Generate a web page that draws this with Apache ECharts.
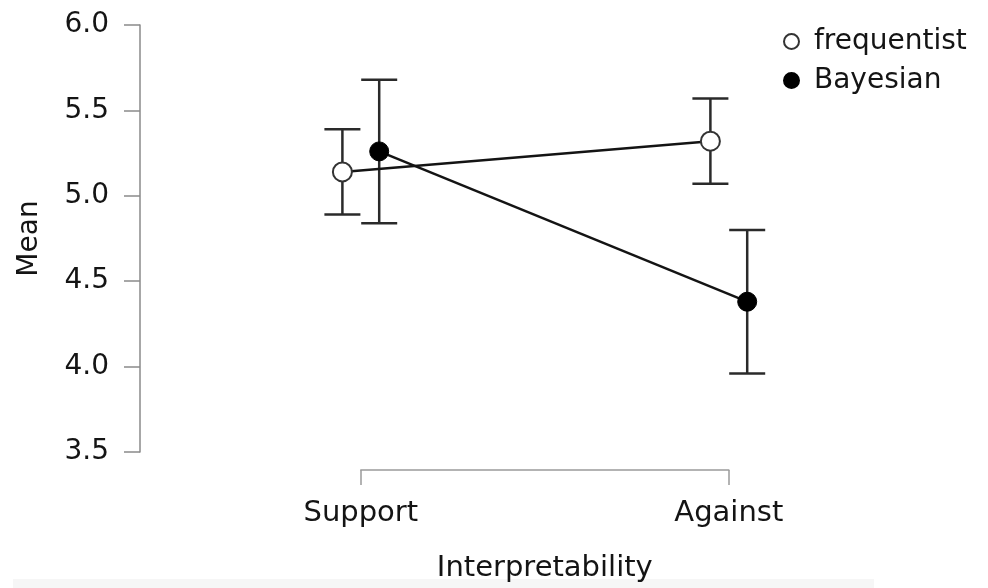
<!DOCTYPE html>
<html>
<head>
<meta charset="utf-8">
<script src="https://cdn.jsdelivr.net/npm/echarts@6/dist/echarts.min.js"></script>
<style>html,body{margin:0;padding:0;background:#fff;}#c{width:988px;height:588px;}</style>
</head>
<body>
<div id="c"></div>
<script>
var categories = ['Support', 'Against'];
var seriesNames = ['frequentist', 'Bayesian'];
var freqMean = [5.14, 5.32];
var freqLow = [4.89, 5.07];
var freqHigh = [5.39, 5.57];
var bayesMean = [5.26, 4.38];
var bayesLow = [4.84, 3.96];
var bayesHigh = [5.68, 4.80];
var yTicks = [3.5, 4.0, 4.5, 5.0, 5.5, 6.0];

var DODGE = 0.05;
var FONT = 'DejaVu Sans';
var INK = '#141414';

function pts(mean, shift) {
  return mean.map(function (v, i) { return [i + shift, v]; });
}
function bars(low, high, shift) {
  return low.map(function (v, i) { return [i + shift, v, high[i]]; });
}
function errRender(params, api) {
  var x = api.value(0);
  var lo = api.coord([x, api.value(1)]);
  var hi = api.coord([x, api.value(2)]);
  var cap = 18;
  var st = { stroke: '#2a2a2a', lineWidth: 2.5 };
  return {
    type: 'group',
    children: [
      { type: 'line', shape: { x1: lo[0], y1: lo[1], x2: hi[0], y2: hi[1] }, style: st },
      { type: 'line', shape: { x1: hi[0] - cap, y1: hi[1], x2: hi[0] + cap, y2: hi[1] }, style: st },
      { type: 'line', shape: { x1: lo[0] - cap, y1: lo[1], x2: lo[0] + cap, y2: lo[1] }, style: st }
    ]
  };
}

var chart = echarts.init(document.getElementById('c'), null, { renderer: 'canvas' });
chart.setOption({
  backgroundColor: '#ffffff',
  animation: false,
  textStyle: { fontFamily: FONT },
  graphic: [{
    type: 'rect', z: -10, silent: true,
    shape: { x: 13, y: 579, width: 861, height: 9 },
    style: { fill: '#f6f6f6' }
  }],
  legend: {
    orient: 'vertical',
    left: 778,
    top: 20,
    icon: 'circle',
    itemWidth: 15,
    itemHeight: 15,
    itemGap: 6,
    data: seriesNames,
    textStyle: { fontFamily: FONT, fontSize: 28, color: INK, lineHeight: 33, padding: [0, 0, 0, 10] }
  },
  grid: [
    { left: 140, right: 1.6, top: 25, bottom: 136, containLabel: false },
    { left: 360.8, right: 259.2, top: 25, bottom: 136, containLabel: false }
  ],
  xAxis: [
    {
      gridIndex: 0, type: 'value', min: -0.6, max: 1.7, show: false,
      splitLine: { show: false }
    },
    {
      gridIndex: 1, type: 'value',
      min: 0, max: 1, interval: 1,
      offset: 21,
      axisLine: { show: true, onZero: false, lineStyle: { color: '#9a9a9a', width: 1.5 } },
      axisTick: { show: true, length: 15, lineStyle: { color: '#9a9a9a', width: 1.5 } },
      splitLine: { show: false },
      axisLabel: {
        margin: 29,
        fontFamily: FONT, fontSize: 29, color: INK,
        formatter: function (v) { return categories[Math.round(v)] || ''; }
      },
      name: 'Interpretability',
      nameLocation: 'middle',
      nameGap: 84,
      nameTextStyle: { fontFamily: FONT, fontSize: 29, color: INK }
    }
  ],
  yAxis: [
    {
      gridIndex: 0, type: 'value',
      min: yTicks[0], max: yTicks[yTicks.length - 1], interval: 0.5,
      axisLine: { show: true, onZero: false, lineStyle: { color: '#8a8a8a', width: 1.5 } },
      axisTick: { show: true, length: 16, lineStyle: { color: '#8a8a8a', width: 1.5 } },
      splitLine: { show: false },
      axisLabel: {
        margin: 31,
        padding: [4, 0, 0, 0],
        fontFamily: FONT, fontSize: 28, color: INK,
        formatter: function (v) { return v.toFixed(1); }
      },
      name: 'Mean',
      nameLocation: 'middle',
      nameGap: 96,
      nameTextStyle: { fontFamily: FONT, fontSize: 28, color: INK }
    },
    {
      gridIndex: 1, type: 'value', show: false,
      min: yTicks[0], max: yTicks[yTicks.length - 1],
      splitLine: { show: false }
    }
  ],
  series: [
    {
      type: 'custom', name: 'err-f', z: 1,
      xAxisIndex: 0, yAxisIndex: 0,
      renderItem: errRender,
      data: bars(freqLow, freqHigh, -DODGE),
      encode: { x: 0, y: [1, 2] }
    },
    {
      type: 'custom', name: 'err-b', z: 1,
      xAxisIndex: 0, yAxisIndex: 0,
      renderItem: errRender,
      data: bars(bayesLow, bayesHigh, DODGE),
      encode: { x: 0, y: [1, 2] }
    },
    {
      type: 'line', name: seriesNames[0], z: 3,
      xAxisIndex: 0, yAxisIndex: 0,
      data: pts(freqMean, -DODGE),
      symbol: 'circle', symbolSize: 19,
      lineStyle: { color: INK, width: 2.5 },
      itemStyle: { color: '#ffffff', borderColor: '#333333', borderWidth: 2 }
    },
    {
      type: 'line', name: seriesNames[1], z: 4,
      xAxisIndex: 0, yAxisIndex: 0,
      data: pts(bayesMean, DODGE),
      symbol: 'circle', symbolSize: 19,
      lineStyle: { color: INK, width: 2.5 },
      itemStyle: { color: '#000000', borderColor: '#000000', borderWidth: 1 }
    }
  ]
});
</script>
</body>
</html>
